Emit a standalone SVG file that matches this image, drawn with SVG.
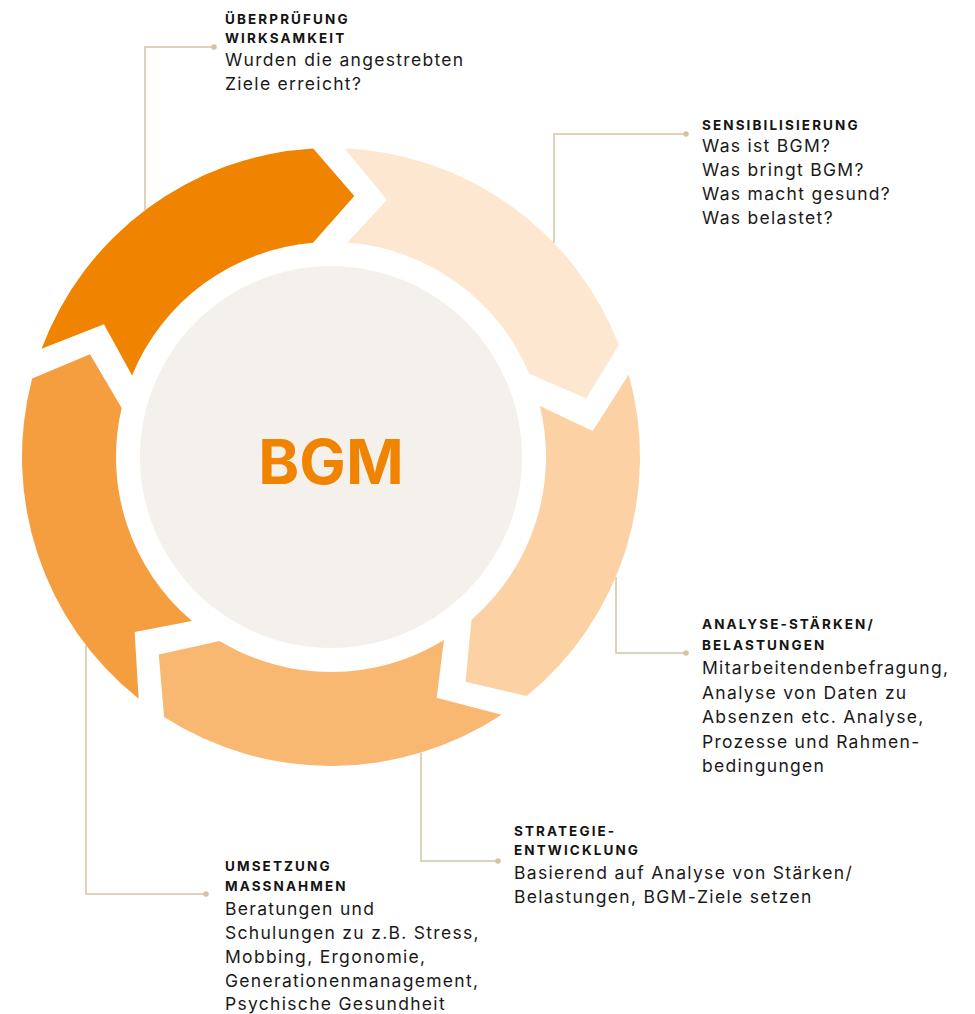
<svg xmlns="http://www.w3.org/2000/svg" xmlns:xlink="http://www.w3.org/1999/xlink" width="975" height="1014" viewBox="0 0 975 1014">
<style>
.h{font-family:Inter,"Noto Sans","DejaVu Sans",sans-serif;font-weight:700;font-size:13.5px;letter-spacing:2.1px;fill:#141414}
.b{font-family:Inter,"Noto Sans","DejaVu Sans",sans-serif;font-weight:400;font-size:17.5px;letter-spacing:1.3px;fill:#1a1a1a}
.ln{fill:none;stroke:#D3C4A8;stroke-width:1.5}
.dot{fill:#D3C4A8}
</style>
<defs>
<path id="arrow" d="M41.57,348.79 L103.94,324.31 L132.08,375.42 A215,215 0 0 1 313.01,242.75 L354.29,196.04 L313.21,148.51 A309,309 0 0 0 41.57,348.79 Z"/>
</defs>
<rect width="975" height="1014" fill="#ffffff"/>
<g id="connectors">
<polyline class="ln" points="145,210 145,47 214,47"/>
<circle class="dot" cx="214" cy="47" r="2.8"/>
<polyline class="ln" points="554,243 554,134 686,134"/>
<circle class="dot" cx="686" cy="134" r="2.8"/>
<polyline class="ln" points="616,577 616,653 686,653"/>
<circle class="dot" cx="686" cy="653" r="2.8"/>
<polyline class="ln" points="421,753 421,861 498,861"/>
<circle class="dot" cx="498" cy="861" r="2.8"/>
<polyline class="ln" points="86,645 86,894 206,894"/>
<circle class="dot" cx="206" cy="894" r="2.8"/>
</g>
<g id="center">
<circle cx="331" cy="457" r="191" fill="#F4F1EC"/>
<text x="331" y="484" text-anchor="middle" font-family="Inter,'Noto Sans','DejaVu Sans',sans-serif" font-weight="700" font-size="62" fill="#F08300">BGM</text>
</g>
<g id="ueberpruefung">
<use href="#arrow" xlink:href="#arrow" fill="#F08300"/>
<text class="h" x="225" y="24">ÜBERPRÜFUNG</text>
<text class="h" x="225" y="43">WIRKSAMKEIT</text>
<text class="b" x="225" y="66">Wurden die angestrebten</text>
<text class="b" x="225" y="90">Ziele erreicht?</text>
</g>
<g id="sensibilisierung">
<use href="#arrow" xlink:href="#arrow" fill="#FDE7D1" transform="rotate(72 331 457)"/>
<text class="h" x="702" y="130">SENSIBILISIERUNG</text>
<text class="b" x="702" y="152">Was ist BGM?</text>
<text class="b" x="702" y="176">Was bringt BGM?</text>
<text class="b" x="702" y="200">Was macht gesund?</text>
<text class="b" x="702" y="224">Was belastet?</text>
</g>
<g id="analyse">
<use href="#arrow" xlink:href="#arrow" fill="#FCD2A5" transform="rotate(144 331 457)"/>
<text class="h" x="702" y="629">ANALYSE-STÄRKEN/</text>
<text class="h" x="702" y="650">BELASTUNGEN</text>
<text class="b" x="702" y="674">Mitarbeitendenbefragung,</text>
<text class="b" x="702" y="698.5">Analyse von Daten zu</text>
<text class="b" x="702" y="723">Absenzen etc. Analyse,</text>
<text class="b" x="702" y="747.5">Prozesse und Rahmen-</text>
<text class="b" x="702" y="772">bedingungen</text>
</g>
<g id="strategie">
<use href="#arrow" xlink:href="#arrow" fill="#F9B872" transform="rotate(216 331 457)"/>
<text class="h" x="514" y="836">STRATEGIE-</text>
<text class="h" x="514" y="855">ENTWICKLUNG</text>
<text class="b" x="514" y="879">Basierend auf Analyse von Stärken/</text>
<text class="b" x="514" y="903">Belastungen, BGM-Ziele setzen</text>
</g>
<g id="umsetzung">
<use href="#arrow" xlink:href="#arrow" fill="#F59E40" transform="rotate(288 331 457)"/>
<text class="h" x="225" y="871">UMSETZUNG</text>
<text class="h" x="225" y="891">MASSNAHMEN</text>
<text class="b" x="225" y="915">Beratungen und</text>
<text class="b" x="225" y="939">Schulungen zu z.B. Stress,</text>
<text class="b" x="225" y="963">Mobbing, Ergonomie,</text>
<text class="b" x="225" y="987">Generationenmanagement,</text>
<text class="b" x="225" y="1010">Psychische Gesundheit</text>
</g>
</svg>
